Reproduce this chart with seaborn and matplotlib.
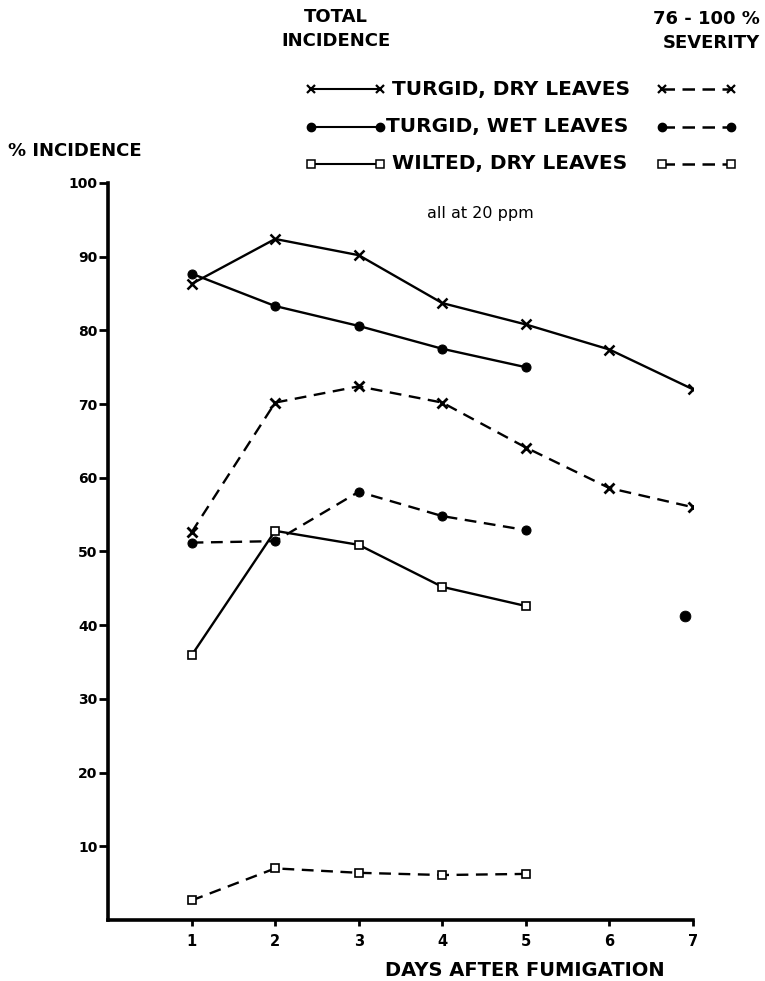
import matplotlib
matplotlib.use("Agg")
import matplotlib.pyplot as plt
from matplotlib.lines import Line2D
import seaborn as sns

days7 = [1, 2, 3, 4, 5, 6, 7]
days5 = [1, 2, 3, 4, 5]

turgid_dry_total = [86.3, 92.4, 90.2, 83.7, 80.8, 77.4, 72.0]
turgid_wet_total = [87.7, 83.3, 80.6, 77.5, 75.0]
wilted_dry_total = [35.9, 52.8, 50.9, 45.2, 42.6]

turgid_dry_sev = [52.6, 70.2, 72.4, 70.2, 64.1, 58.6, 56.0]
turgid_wet_sev = [51.2, 51.4, 58.1, 54.8, 52.9]
wilted_dry_sev = [2.65, 7.0, 6.4, 6.1, 6.25]

stray_day = [6.9]
stray_val = [41.2]

y_ticks = [10, 20, 30, 40, 50, 60, 70, 80, 90, 100]
x_ticks = [1, 2, 3, 4, 5, 6, 7]

sns.set_theme(style="white")
plt.rcParams['font.family'] = ['DejaVu Sans']
plt.rcParams['text.color'] = 'black'

fig = plt.figure(figsize=(7.65, 9.81), dpi=100)
ax = fig.add_axes([0.1412, 0.0622, 0.7647, 0.7513])

dash = (0, (5, 3.2))
lw = 1.7
common = dict(color="black", ax=ax, linewidth=lw, legend=False)

sns.lineplot(x=days7, y=turgid_dry_total, marker="x", markersize=6.5,
             markeredgewidth=1.8, markeredgecolor="black", **common)
sns.lineplot(x=days5, y=turgid_wet_total, marker="o", markersize=6.5,
             markeredgecolor="black", **common)
sns.lineplot(x=days5, y=wilted_dry_total, marker="s", markersize=6,
             markerfacecolor="white", markeredgecolor="black",
             markeredgewidth=1.2, **common)

sns.lineplot(x=days7, y=turgid_dry_sev, marker="x", markersize=6.5,
             markeredgewidth=2.0, markeredgecolor="black", linestyle=dash,
             **common)
sns.lineplot(x=days5, y=turgid_wet_sev, marker="o", markersize=6.5,
             markeredgecolor="black", linestyle=dash, **common)
sns.lineplot(x=days5, y=wilted_dry_sev, marker="s", markersize=6,
             markerfacecolor="white", markeredgecolor="black",
             markeredgewidth=1.2, linestyle=dash, **common)
sns.scatterplot(x=stray_day, y=stray_val, color="black", s=60, marker="o",
                edgecolor="black", ax=ax, legend=False)

ax.set_xlim(0, 7)
ax.set_ylim(0, 100)
ax.set_xticks(x_ticks)
ax.set_xticklabels([str(t) for t in x_ticks], fontsize=10.5, fontweight="bold")
ax.set_yticks(y_ticks)
ax.set_yticklabels([str(t) for t in y_ticks], fontsize=10, fontweight="bold")
ax.tick_params(axis="y", direction="out", length=6.5, width=2, pad=1,
               left=True, colors="black")
ax.tick_params(axis="x", direction="out", length=4, width=2, pad=6,
               bottom=True, colors="black")
for s in ["top", "right"]:
    ax.spines[s].set_visible(False)
for s in ["left", "bottom"]:
    ax.spines[s].set_linewidth(2.6)
    ax.spines[s].set_color("black")
ax.set_xlabel("")
ax.set_ylabel("")
ax.grid(False)

ax.text(0.636, 0.959, "all at 20 ppm", transform=ax.transAxes, ha="center",
        va="center", fontsize=11.5, color="black")

fs_title = 13
fig.text(336/765, 1-29/981, "TOTAL\nINCIDENCE", ha="center", va="center",
         fontsize=fs_title, fontweight="bold", linespacing=1.45, color="black")
fig.text(760/765, 1-31/981, "76 - 100 %\nSEVERITY", ha="right", va="center",
         fontsize=fs_title, fontweight="bold", linespacing=1.45,
         multialignment="right", color="black")

fig.text(8/765, 1-151/981, "% INCIDENCE", ha="left", va="center",
         fontsize=13, fontweight="bold", color="black")
fig.text(525/765, 1-971/981, "DAYS AFTER FUMIGATION", ha="center",
         va="center", fontsize=14, fontweight="bold", color="black")

legend_rows = [
    (89, 392, "TURGID, DRY LEAVES",
     dict(marker="x", markersize=6, markeredgewidth=1.6)),
    (127, 386, "TURGID, WET LEAVES", dict(marker="o", markersize=6)),
    (164, 392, "WILTED, DRY LEAVES", dict(marker="s", markersize=6,
                                          markerfacecolor="white",
                                          markeredgewidth=1.1)),
]
for ypix, xtext, label, mk in legend_rows:
    yf = 1 - ypix/981
    fig.add_artist(Line2D([311/765, 380/765], [yf, yf], color="black",
                          linewidth=1.5, markevery=[0, 1],
                          markeredgecolor="black", **mk))
    fig.add_artist(Line2D([662/765, 731/765], [yf, yf], color="black",
                          linewidth=1.8, linestyle=(0, (5, 3)),
                          markevery=[0, 1], markeredgecolor="black", **mk))
    fig.text(xtext/765, yf, label, ha="left", va="center", fontsize=14.5,
             fontweight="bold", color="black")

fig.savefig("out.png", dpi=100)
